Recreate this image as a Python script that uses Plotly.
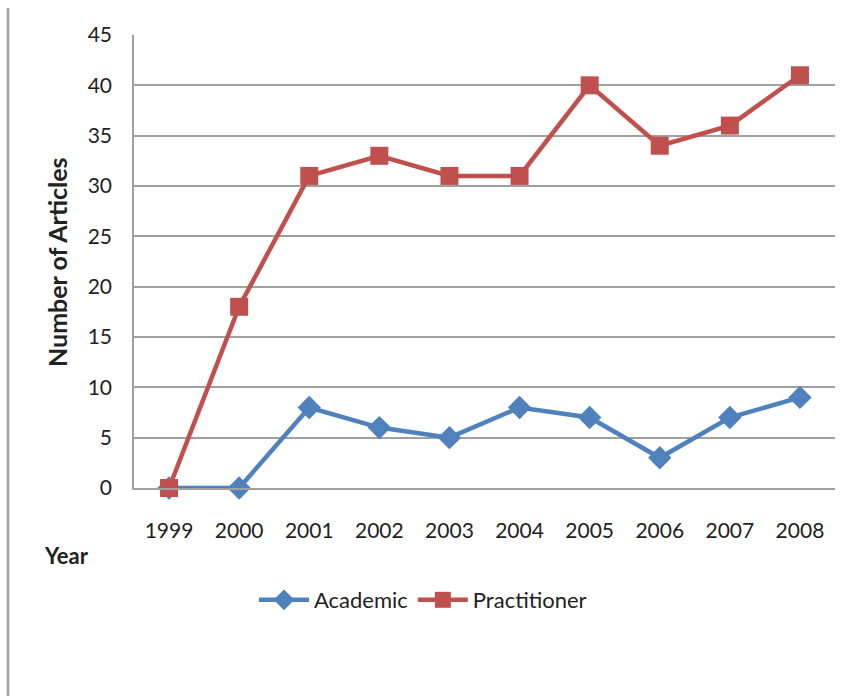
import plotly.graph_objects as go

years = ["1999", "2000", "2001", "2002", "2003", "2004", "2005", "2006", "2007", "2008"]
academic = [0, 0, 8, 6, 5, 8, 7, 3, 7, 9]
practitioner = [0, 18, 31, 33, 31, 31, 40, 34, 36, 41]
y_ticks = [0, 5, 10, 15, 20, 25, 30, 35, 40, 45]

FONT = "Lato, Calibri, Carlito, 'Liberation Sans', sans-serif"

fig = go.Figure()
fig.add_trace(go.Scatter(
    x=years, y=academic, name="Academic", mode="lines+markers", cliponaxis=False,
    line=dict(color="#4F81BD", width=4.5),
    marker=dict(symbol="diamond", size=18, color="#4F81BD"),
))
fig.add_trace(go.Scatter(
    x=years, y=practitioner, name="Practitioner", mode="lines+markers", cliponaxis=False,
    line=dict(color="#C0504D", width=4.5),
    marker=dict(symbol="square", size=18, color="#C0504D"),
))

L, R, T, B = 134, 16, 35, 208
W, H = 851, 696
pw, ph = W - L - R, H - T - B

def px(x):
    return (x - L) / pw

def py(y):
    return (H - B - y) / ph

fig.update_layout(
    width=W, height=H,
    margin=dict(l=L, r=R, t=T, b=B),
    paper_bgcolor="white", plot_bgcolor="white",
    font=dict(family=FONT, size=21, color="#222222"),
    showlegend=True,
    legend=dict(orientation="h", x=px(423), xanchor="center", y=py(600), yanchor="middle",
                font=dict(size=22, family=FONT), itemwidth=50, bgcolor="rgba(0,0,0,0)"),
    xaxis=dict(type="category", showgrid=False, showline=True, linecolor="#A0A0A0", linewidth=1.5,
               ticks="", ticklabelstandoff=23, tickfont=dict(size=21, family=FONT),
               range=[-0.5, 9.5], fixedrange=True),
    yaxis=dict(range=[0, 45], tickvals=y_ticks, showgrid=True, gridcolor="#A0A0A0", gridwidth=1.5,
               showline=True, linecolor="#A0A0A0", linewidth=1.5, ticks="", ticklabelstandoff=16,
               tickfont=dict(size=21, family=FONT), zeroline=False, fixedrange=True),
    annotations=[
        dict(text="<b>Number of Articles</b>", x=px(57), y=py(262), xref="paper", yref="paper",
             textangle=-90, showarrow=False, font=dict(size=25, family=FONT, color="#222222"),
             xanchor="center", yanchor="middle"),
        dict(text="<b>Year</b>", x=px(66), y=py(555), xref="paper", yref="paper",
             showarrow=False, font=dict(size=22, family=FONT, color="#222222"),
             xanchor="center", yanchor="middle"),
    ],
    shapes=[
        dict(type="line", xref="paper", yref="paper", x0=px(8), x1=px(8), y0=py(8), y1=py(696),
             line=dict(color="#A0A0A0", width=2.5)),
    ],
)

fig.write_html("out.html", config={"displayModeBar": False},
               post_script="document.body.style.margin='0';")
